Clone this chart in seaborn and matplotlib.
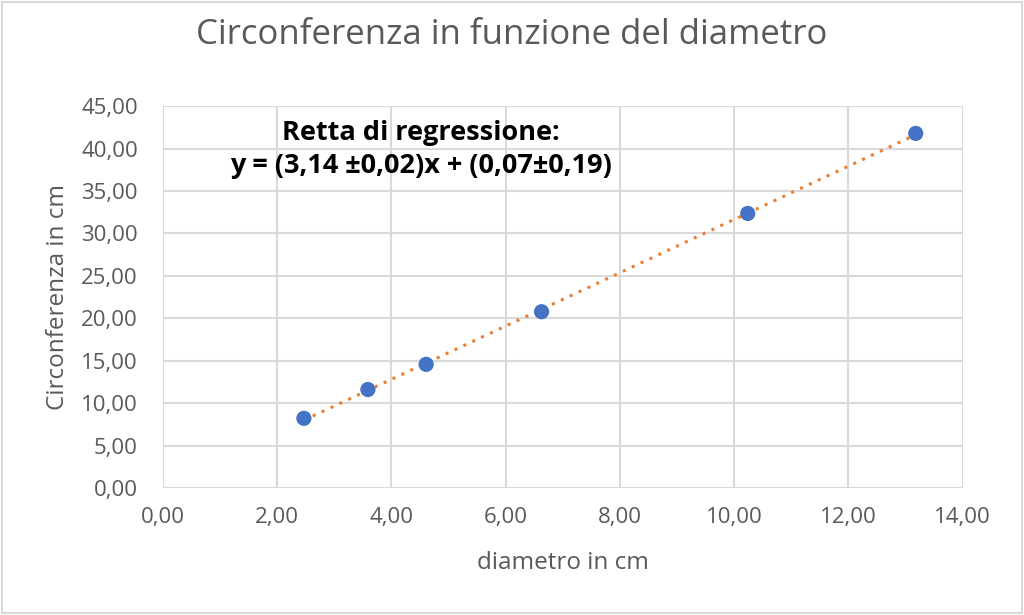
import pandas as pd
import matplotlib.pyplot as plt
import matplotlib.ticker as mticker
import seaborn as sns

# diametro / circonferenza misurati (cm)
diametro = [2.47, 3.59, 4.61, 6.63, 10.24, 13.18]
circonferenza = [8.21, 11.60, 14.57, 20.77, 32.35, 41.78]

df = pd.DataFrame({'diametro': diametro, 'circonferenza': circonferenza})

sns.set_style('white')
plt.rcParams['font.family'] = ['Open Sans', 'DejaVu Sans']

fig = plt.figure(figsize=(10.24, 6.15), dpi=100)
ax = fig.add_axes([0.159, 0.2065, 0.781, 0.621])

# trendline dotted orange
sns.regplot(data=df, x='diametro', y='circonferenza', ax=ax, scatter=False, ci=None,
            line_kws={'color': '#ED7D31', 'linestyle': (0, (1, 2.2)), 'linewidth': 2.2})
sns.scatterplot(data=df, x='diametro', y='circonferenza', ax=ax, color='#4472C4',
                s=120, edgecolor='none', zorder=3)

ax.set_xlim(0, 14)
ax.set_ylim(0, 45)
ax.xaxis.set_major_locator(mticker.MultipleLocator(2))
ax.yaxis.set_major_locator(mticker.MultipleLocator(5))
fmt = mticker.FuncFormatter(lambda v, p: f'{v:.2f}'.replace('.', ','))
ax.xaxis.set_major_formatter(fmt)
ax.yaxis.set_major_formatter(fmt)
ax.tick_params(labelsize=16, colors='#595959', length=0)
ax.tick_params(axis='x', pad=14)
ax.tick_params(axis='y', pad=18)

ax.grid(True, color='#d9d9d9', linewidth=1.5)
ax.set_axisbelow(True)
for s in ax.spines.values():
    s.set_visible(False)

ax.set_xlabel('diametro in cm', fontsize=17.5, color='#595959', va='center')
ax.set_ylabel('Circonferenza in cm', fontsize=17.5, color='#595959', va='center')
ax.xaxis.set_label_coords(0.5, -0.196)
ax.yaxis.set_label_coords(-0.131, 0.5)
fig.suptitle('Circonferenza in funzione del diametro', fontsize=25, color='#595959',
             y=0.943, va='center')

ax.text(4.52, 39.9, 'Retta di regressione:\ny = (3,14 \u00b10,02)x + (0,07\u00b10,19)',
        ha='center', va='center', fontsize=19.5, fontweight='bold', color='black',
        linespacing=1.35)

fig.patches.append(plt.Rectangle((0.002, 0.003), 0.996, 0.994, transform=fig.transFigure,
                                 fill=False, edgecolor='#d9d9d9', linewidth=1.5))

fig.savefig('out.png', dpi=100)
